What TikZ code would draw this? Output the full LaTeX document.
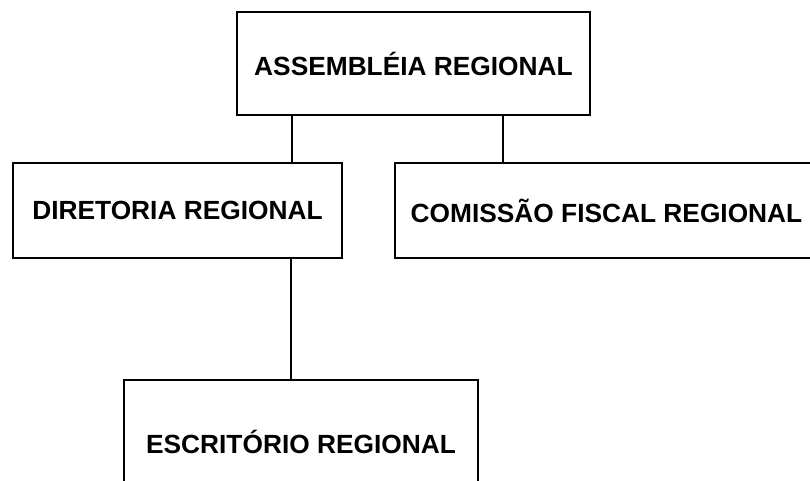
\documentclass[tikz,border=0pt]{standalone}
\usepackage{fontspec}
\setmainfont{Liberation Sans}
\usetikzlibrary{positioning}

\begin{document}
\begin{tikzpicture}[x=1pt,y=1pt,node distance=150pt,on grid,
	orgbox/.style={draw,
		line width=2.2pt,
		inner sep=0pt,
		minimum height=95pt,
		font=\fontsize{26.3}{30}\selectfont\bfseries},
	link/.style={line width=2.2pt}]

\clip (0,0) rectangle (810,-481);

% Top level
\node[orgbox,
	minimum width=353pt,
	minimum height=103pt] (assembleia) at (413.5,-63.5) {ASSEMBLÉIA REGIONAL};

%%%%%%%%%%%%%%%%%%%
% Second level

\node[orgbox,
	below left= 147pt and 236pt of assembleia,
	minimum width=329pt] (diretoria) {DIRETORIA REGIONAL};

\node[orgbox,
	below right= 147pt and 193pt of assembleia,
	minimum width=423pt] (comissao) {COMISSÃO FISCAL REGIONAL};

\draw[link]
	([xshift=-121.5pt]assembleia.south) -- ([xshift=-121.5pt]assembleia.south |- diretoria.north)
	([xshift=89.5pt]assembleia.south) -- ([xshift=89.5pt]assembleia.south |- comissao.north);

%%%%%%%%%%%%%%%%%%%
% Office

\node[orgbox,
	below right= 231.5pt and 123.5pt of diretoria,
	minimum width=354pt,
	minimum height=124pt] (escritorio) {ESCRITÓRIO REGIONAL};

\draw[link]
	([xshift=113.5pt]diretoria.south) -- ([xshift=113.5pt]diretoria.south |- escritorio.north);

\end{tikzpicture}
\end{document}
